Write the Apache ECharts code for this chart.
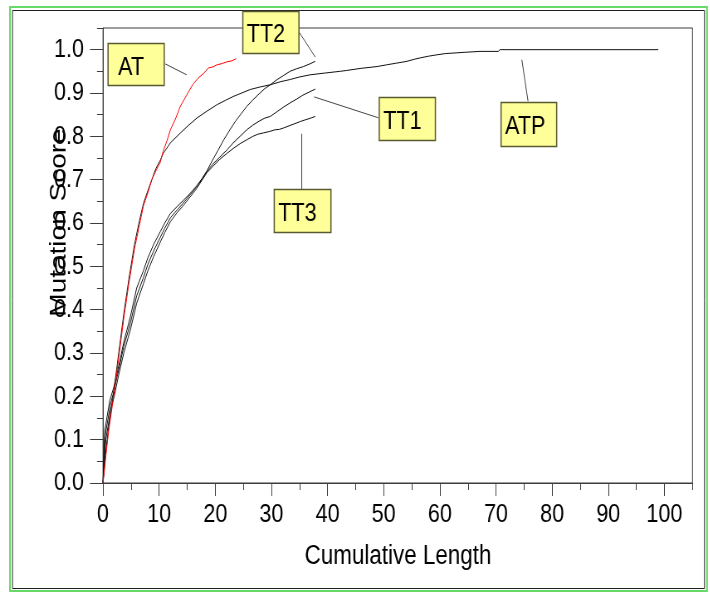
<!DOCTYPE html>
<html>
<head>
<meta charset="utf-8">
<script src="https://cdn.jsdelivr.net/npm/echarts@6/dist/echarts.min.js"></script>
<style>
html, body { margin: 0; padding: 0; background: #ffffff; overflow: hidden; }
#wrap { width: 710px; height: 594px; overflow: hidden; }
#chart { height: 594px; transform-origin: 0 0; }
</style>
</head>
<body>
<div id="wrap"><div id="chart"></div></div>
<script>
// ---- data: cumulative test length vs. mutation score ----
const xTickLabels = [0, 10, 20, 30, 40, 50, 60, 70, 80, 90, 100];
const yTickLabels = ['0.0', '0.1', '0.2', '0.3', '0.4', '0.5', '0.6', '0.7', '0.8', '0.9', '1.0'];

const atPoints = [
  [0, 0], [0.4, 0.05], [1.0, 0.12], [1.9, 0.2], [2.8, 0.29], [3.7, 0.38], [4.6, 0.46],
  [5.6, 0.54], [6.4, 0.59], [7.2, 0.64], [8.0, 0.67], [8.7, 0.70], [9.4, 0.72],
  [10.2, 0.74], [10.7, 0.765], [11.4, 0.79], [12.0, 0.815], [12.9, 0.84], [13.8, 0.87],
  [14.9, 0.895], [16.0, 0.92], [17.0, 0.935], [17.9, 0.945], [18.8, 0.958], [19.5, 0.96],
  [20.3, 0.965], [21.2, 0.968], [22.1, 0.972], [22.9, 0.974], [23.7, 0.979]
];

const atpPoints = [
  [0, 0], [0.4, 0.06], [1.0, 0.13], [1.9, 0.21], [2.8, 0.30], [3.7, 0.39], [4.6, 0.47],
  [5.6, 0.55], [6.4, 0.60], [7.2, 0.645], [8.0, 0.675], [8.7, 0.70], [9.4, 0.725],
  [10.2, 0.745], [10.7, 0.76], [12.0, 0.785], [13.8, 0.808], [15.2, 0.825], [16.7, 0.842],
  [18.5, 0.858], [20.3, 0.873], [21.8, 0.883], [23.2, 0.892], [24.7, 0.90], [26.2, 0.908],
  [28.0, 0.914], [29.8, 0.919], [31.6, 0.926], [33.3, 0.931], [35.0, 0.937], [36.9, 0.942],
  [39.5, 0.946], [42.2, 0.950], [43.4, 0.952], [46.0, 0.957], [48.8, 0.961], [50.5, 0.965],
  [52.3, 0.969], [54.1, 0.973], [55.5, 0.978], [56.5, 0.981], [58.0, 0.985], [59.4, 0.988],
  [61.0, 0.991], [64.5, 0.994], [67.1, 0.996], [70.4, 0.996], [70.7, 1.0], [98.9, 1.0]
];

const tt1Points = [
  [0, 0], [0.4, 0.11], [1.3, 0.18], [1.9, 0.21], [2.8, 0.262], [3.7, 0.315], [4.9, 0.37],
  [6.0, 0.432], [7.2, 0.474], [8.0, 0.505], [9.0, 0.535], [10.2, 0.567], [11.0, 0.588],
  [12.0, 0.612], [13.2, 0.63], [14.3, 0.646], [15.5, 0.665], [16.7, 0.684], [17.6, 0.70],
  [18.5, 0.719], [19.5, 0.735], [20.8, 0.752], [22.1, 0.769], [23.2, 0.785], [24.4, 0.80],
  [25.6, 0.815], [26.7, 0.826], [27.8, 0.835], [28.8, 0.842], [29.8, 0.846], [30.9, 0.856],
  [32.1, 0.867], [33.3, 0.877], [34.5, 0.886], [35.6, 0.895], [36.7, 0.902], [37.8, 0.909]
];

const tt2Points = [
  [0, 0], [0.3, 0.12], [1.2, 0.19], [1.9, 0.22], [2.8, 0.27], [3.7, 0.325], [4.9, 0.385],
  [6.0, 0.45], [7.2, 0.49], [8.0, 0.52], [9.0, 0.55], [10.2, 0.58], [11.0, 0.60],
  [12.0, 0.622], [13.2, 0.638], [14.3, 0.652], [15.5, 0.668], [16.7, 0.686], [17.6, 0.702],
  [18.5, 0.72], [19.5, 0.745], [20.5, 0.768], [21.5, 0.792], [22.6, 0.815], [23.6, 0.835],
  [24.6, 0.852], [25.6, 0.869], [26.7, 0.884], [27.8, 0.898], [28.8, 0.91], [29.8, 0.919],
  [30.9, 0.93], [32.1, 0.94], [33.3, 0.950], [34.5, 0.956], [35.7, 0.961], [36.8, 0.967],
  [37.8, 0.973]
];

const tt3Points = [
  [0, 0], [0.5, 0.10], [1.4, 0.17], [2.0, 0.20], [2.8, 0.25], [3.7, 0.30], [4.9, 0.355],
  [6.0, 0.415], [7.2, 0.46], [8.0, 0.49], [9.0, 0.522], [10.2, 0.556], [11.0, 0.578],
  [12.0, 0.603], [13.2, 0.624], [14.3, 0.64], [15.5, 0.66], [16.7, 0.68], [17.6, 0.698],
  [18.5, 0.716], [19.5, 0.73], [20.8, 0.747], [22.1, 0.761], [23.2, 0.772], [24.4, 0.783],
  [25.6, 0.792], [26.7, 0.80], [27.6, 0.805], [28.6, 0.808], [29.6, 0.811], [30.6, 0.815],
  [31.4, 0.816], [32.1, 0.819], [33.1, 0.824], [34.1, 0.829], [35.1, 0.834], [36.0, 0.838],
  [37.0, 0.842], [37.8, 0.846]
];

const seriesNames = ['AT', 'ATP', 'TT1', 'TT2', 'TT3'];
const seriesPoints = [atPoints, atpPoints, tt1Points, tt2Points, tt3Points];
const seriesColors = ['#ff0000', '#111111', '#111111', '#111111', '#111111'];

// ---- callout labels, placed in data space (box corners + leader line) ----
const callouts = [
  { text: 'AT',  box: [0.9, 1.015, 10.9, 0.917], lead: [[11.1, 0.967], [14.9, 0.942]], pad: 10 },
  { text: 'TT2', box: [24.9, 1.090, 34.9, 0.992], lead: [[34.9, 1.041], [37.8, 0.983]], pad: 4 },
  { text: 'TT1', box: [49.2, 0.890, 59.2, 0.790], lead: [[37.6, 0.891], [49.0, 0.843]], pad: 4 },
  { text: 'ATP', box: [70.9, 0.880, 80.8, 0.778], lead: [[74.6, 0.977], [75.7, 0.881]], pad: 4 },
  { text: 'TT3', box: [30.5, 0.678, 40.6, 0.579], lead: [[35.4, 0.806], [35.4, 0.678]], pad: 4 }
];

// The figure uses a condensed face: the chart is laid out wider and
// compressed horizontally by SX, so every horizontal measure below is
// divided by SX.
const SX = 0.83;
const W = 710 / SX;
const FONT = '"Liberation Sans", Arial, sans-serif';
const AXIS_COLOR = '#3c3c3c';

const el = document.getElementById('chart');
el.style.width = W + 'px';
el.style.transform = 'scaleX(' + SX + ')';

const chart = echarts.init(el, null, { renderer: 'canvas', width: W, height: 594 });

const xMajor = xTickLabels.slice();
const yMajor = yTickLabels.map(Number);

const option = {
  backgroundColor: '#ffffff',
  animation: false,
  grid: {
    left: 103 / SX, right: 17.5 / SX, top: 28, bottom: 111,
    show: true, borderColor: AXIS_COLOR, borderWidth: 1, backgroundColor: 'transparent'
  },
  xAxis: [
    {
      type: 'value', min: 0, max: 105, interval: 5, position: 'bottom',
      axisLine: { show: true, lineStyle: { color: AXIS_COLOR, width: 1 } },
      axisTick: { show: true, inside: false, length: 7, lineStyle: { color: AXIS_COLOR } },
      axisLabel: { show: false },
      splitLine: { show: false }
    },
    {
      type: 'value', min: 0, max: 105, interval: 10, position: 'bottom',
      axisLine: { show: false },
      axisTick: { show: true, length: 13, customValues: xMajor, lineStyle: { color: AXIS_COLOR } },
      axisLabel: {
        show: true, customValues: xMajor, margin: 19,
        fontFamily: FONT, fontSize: 26, color: '#000'
      },
      splitLine: { show: false }
    }
  ],
  yAxis: [
    {
      type: 'value', min: 0, max: 1.05, interval: 0.05, position: 'left',
      axisLine: { show: true, lineStyle: { color: AXIS_COLOR, width: 1 } },
      axisTick: { show: true, length: 6 / SX, lineStyle: { color: AXIS_COLOR } },
      axisLabel: { show: false },
      splitLine: { show: false }
    },
    {
      type: 'value', min: 0, max: 1.05, interval: 0.1, position: 'left',
      axisLine: { show: false },
      axisTick: { show: true, length: 13 / SX, customValues: yMajor, lineStyle: { color: AXIS_COLOR } },
      axisLabel: {
        show: true, customValues: yMajor, margin: 19 / SX,
        fontFamily: FONT, fontSize: 26, color: '#000',
        formatter: v => v.toFixed(1)
      },
      splitLine: { show: false }
    }
  ],
  series: seriesNames.map((name, i) => ({
    name: name,
    type: 'line',
    xAxisIndex: 0,
    yAxisIndex: 0,
    data: seriesPoints[i],
    showSymbol: false,
    symbol: 'none',
    smooth: false,
    lineStyle: { color: seriesColors[i], width: 1 },
    z: i === 0 ? 3 : 2
  }))
};

chart.setOption(option);

// frame, axis titles and callouts
function px(p) { return chart.convertToPixel({ xAxisIndex: 0, yAxisIndex: 0 }, p); }

const graphics = [
  {
    type: 'rect', silent: true, z: 0,
    shape: { x: 10 / SX, y: 7, width: 697 / SX, height: 584 },
    style: { fill: 'none', stroke: '#66d966', lineWidth: 2 }
  },
  {
    type: 'rect', silent: true, z: 0,
    shape: { x: 12.5 / SX, y: 10.5, width: 692 / SX, height: 578 },
    style: { fill: 'none', stroke: '#202020', lineWidth: 1 }
  },
  {
    type: 'text', silent: true,
    x: 398 / SX, y: 557,
    style: {
      text: 'Cumulative Length', fill: '#000',
      font: '27px ' + FONT, align: 'center', verticalAlign: 'middle'
    }
  },
  {
    type: 'text', silent: true,
    x: 59 / SX, y: 222.5, rotation: Math.PI / 2,
    style: {
      text: 'Mutation Score', fill: '#000',
      font: '28px ' + FONT, align: 'center', verticalAlign: 'middle'
    }
  }
];

callouts.forEach(c => {
  const a = px(c.lead[0]);
  const b = px(c.lead[1]);
  graphics.push({
    type: 'line', silent: true, z: 50,
    shape: { x1: a[0], y1: a[1], x2: b[0], y2: b[1] },
    style: { stroke: '#444', lineWidth: 1 }
  });
  const tl = px([c.box[0], c.box[1]]);
  const br = px([c.box[2], c.box[3]]);
  graphics.push({
    type: 'rect', silent: true, z: 51,
    shape: { x: tl[0], y: Math.round(tl[1]) + 0.5,
             width: br[0] - tl[0], height: Math.round(br[1] - tl[1]) },
    style: { fill: '#ffff99', stroke: '#5a5a30', lineWidth: 1.5 }
  });
  graphics.push({
    type: 'text', silent: true, z: 52,
    x: tl[0] + c.pad / SX, y: (tl[1] + br[1]) / 2 + 3,
    style: {
      text: c.text, fill: '#000', font: '26px ' + FONT,
      align: 'left', verticalAlign: 'middle'
    }
  });
});

chart.setOption({ graphic: graphics });
</script>
</body>
</html>
